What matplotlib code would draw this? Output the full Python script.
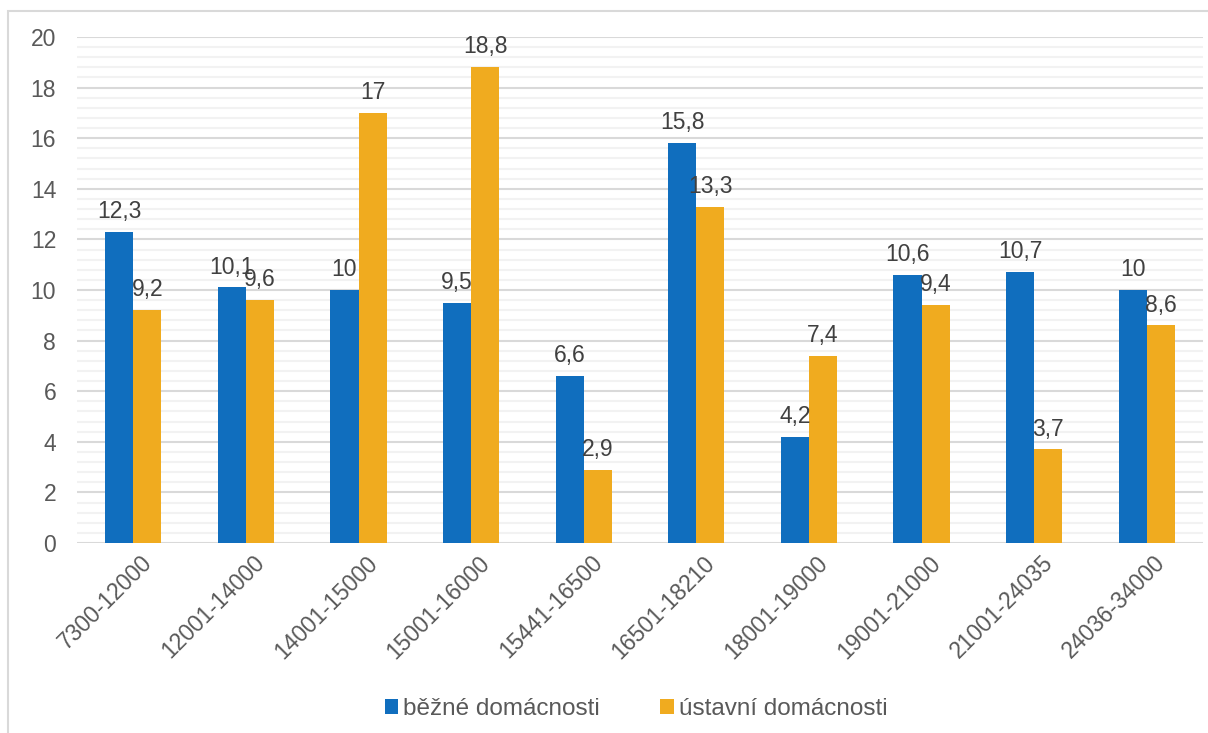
import matplotlib
matplotlib.use("Agg")
import matplotlib.pyplot as plt
import numpy as np
from matplotlib.patches import Rectangle
from matplotlib.ticker import MultipleLocator
from matplotlib.transforms import ScaledTranslation

categories = ["7300-12000", "12001-14000", "14001-15000", "15001-16000", "15441-16500",
              "16501-18210", "18001-19000", "19001-21000", "21001-24035", "24036-34000"]
bezne = [12.3, 10.1, 10, 9.5, 6.6, 15.8, 4.2, 10.6, 10.7, 10]
ustavni = [9.2, 9.6, 17, 18.8, 2.9, 13.3, 7.4, 9.4, 3.7, 8.6]
series_names = ["běžné domácnosti", "ústavní domácnosti"]

plt.rcParams['font.family'] = ['Liberation Sans', 'DejaVu Sans']
txt = '#595959'
blue = '#106EBE'
orange = '#F0AB1F'

fig = plt.figure(figsize=(12.08, 7.33), dpi=100)
ax = fig.add_axes([77/1208, 1-543/733, (1203-77)/1208, (543-37)/733])

x = np.arange(len(categories))
w = 0.25
b1 = ax.bar(x - w/2, bezne, w, color=blue, label=series_names[0], zorder=3)
b2 = ax.bar(x + w/2, ustavni, w, color=orange, label=series_names[1], zorder=3)

def fmt(v):
    return ('%g' % v).replace('.', ',')

for bars, vals in ((b1, bezne), (b2, ustavni)):
    for r, v in zip(bars, vals):
        ax.annotate(fmt(v), (r.get_x() + r.get_width()/2, v), xytext=(0, 10),
                    textcoords='offset points', ha='center', va='baseline',
                    fontsize=16.5, color='#404040', zorder=4)

ax.set_xlim(-0.5, len(categories) - 0.5)
ax.set_ylim(0, 20)
ax.yaxis.set_major_locator(MultipleLocator(2))
ax.yaxis.set_minor_locator(MultipleLocator(0.4))
ax.grid(which='major', axis='y', color='#d9d9d9', linewidth=1.5, zorder=0)
ax.grid(which='minor', axis='y', color='#f2f2f2', linewidth=1.5, zorder=0)
for s in ax.spines.values():
    s.set_visible(False)
ax.tick_params(axis='both', which='both', length=0)
ax.tick_params(axis='y', labelsize=16.5, labelcolor=txt, pad=15)
ax.set_xticks(x)
ax.set_xticklabels(categories, rotation=45, ha='right', rotation_mode='anchor',
                   fontsize=16.5, color=txt)
ax.tick_params(axis='x', pad=6)
offset = ScaledTranslation(7/100, 0, fig.dpi_scale_trans)
for lab in ax.get_xticklabels():
    lab.set_transform(lab.get_transform() + offset)

leg = fig.legend(handles=[b1, b2], labels=series_names, loc='center',
                 bbox_to_anchor=(636/1208, 1-709/733), ncol=2, frameon=False,
                 fontsize=17.5, handlelength=0.55, handleheight=0.55, handletextpad=0.2,
                 columnspacing=2.5, labelcolor=txt)

fig.patches.append(Rectangle((8/1208, -0.1), 1.2, 1 - 11/733 + 0.1,
                             transform=fig.transFigure, fill=False,
                             edgecolor='#d9d9d9', linewidth=1.5))

fig.savefig('out.png', dpi=100)
